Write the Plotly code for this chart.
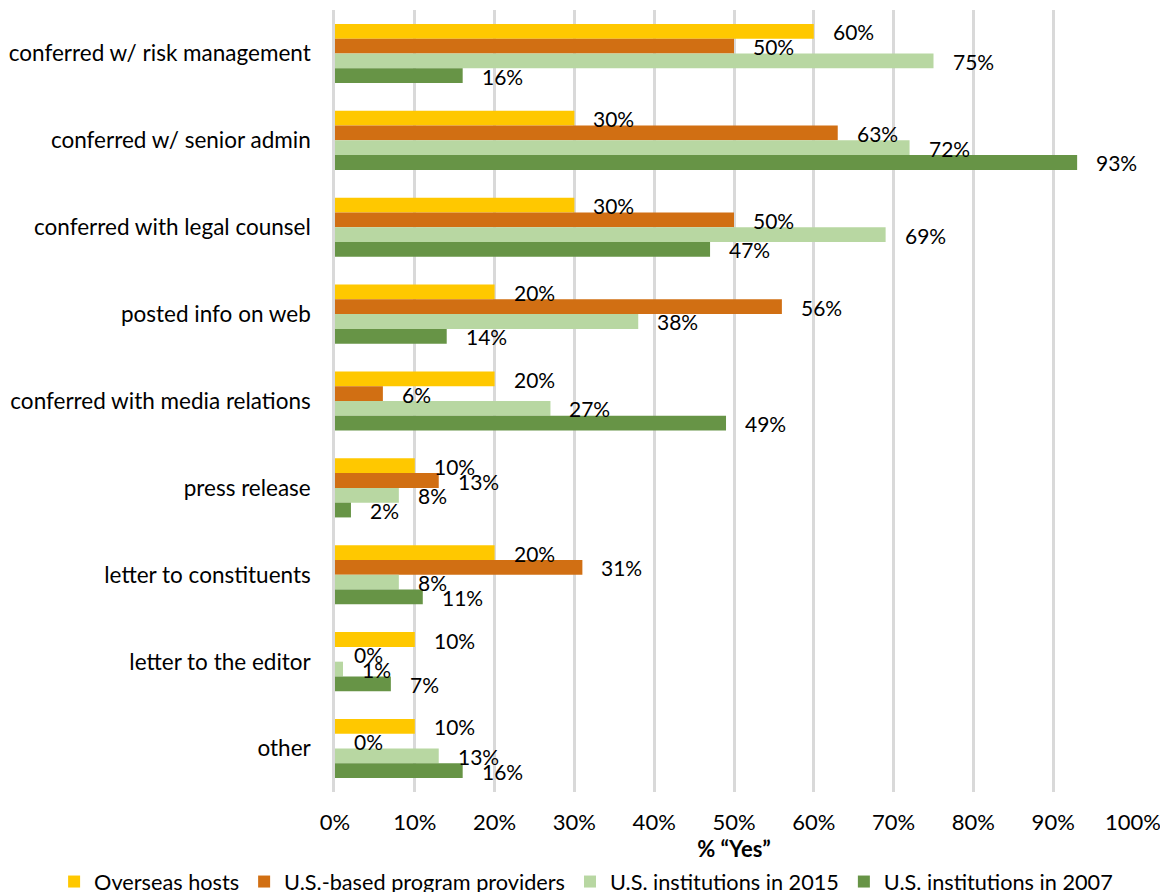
import plotly.graph_objects as go

# Survey responses, % answering "Yes"
categories = [
    "conferred w/ risk management",
    "conferred w/ senior admin",
    "conferred with legal counsel",
    "posted info on web",
    "conferred with media relations",
    "press release",
    "letter to constituents",
    "letter to the editor",
    "other",
]
series_names = [
    "Overseas hosts",
    "U.S.-based program providers",
    "U.S. institutions in 2015",
    "U.S. institutions in 2007",
]
overseas_hosts = [60, 30, 30, 20, 20, 10, 20, 10, 10]
us_providers = [50, 63, 50, 56, 6, 13, 31, 0, 0]
us_inst_2015 = [75, 72, 69, 38, 27, 8, 8, 1, 13]
us_inst_2007 = [16, 93, 47, 14, 49, 2, 11, 7, 16]
x_ticks = [0, 10, 20, 30, 40, 50, 60, 70, 80, 90, 100]

series_values = [overseas_hosts, us_providers, us_inst_2015, us_inst_2007]
colors = ["#FFC800", "#D16F13", "#B8D7A2", "#679446"]

FONT = "Lato"
W, H = 1160, 892
margin = dict(l=335, r=27, t=10, b=100, autoexpand=False)
bargap = 0.32

# pixel height of a single bar, used to place the value labels
plot_h = H - margin["t"] - margin["b"]
bar_px = plot_h / len(categories) * (1 - bargap) / len(series_names)

fig = go.Figure()
for name, vals, col in zip(series_names, series_values, colors):
    fig.add_trace(go.Bar(
        y=categories,
        x=vals,
        name=name,
        orientation="h",
        marker=dict(color=col, line=dict(width=0)),
        hovertemplate="%{y}: %{x}%<extra>" + name + "</extra>",
    ))

# value labels, sitting just right of each bar end
for i, vals in enumerate(series_values):
    for cat, v in zip(categories, vals):
        fig.add_annotation(
            x=v, y=cat,
            text=f"{v}%",
            showarrow=False,
            xanchor="left",
            yanchor="middle",
            xshift=17,
            yshift=(1.5 - i) * bar_px - 0.5,
            font=dict(family=FONT, size=21, color="#000000"),
        )

fig.update_layout(
    width=W,
    height=H,
    barmode="group",
    bargap=bargap,
    bargroupgap=0,
    margin=margin,
    plot_bgcolor="white",
    paper_bgcolor="white",
    font=dict(family=FONT, size=22, color="#000000"),
    xaxis=dict(
        range=[0, 100],
        tickvals=x_ticks,
        ticktext=[f"{t}%" for t in x_ticks],
        showgrid=True,
        gridcolor="#D9D9D9",
        gridwidth=2.5,
        zeroline=False,
        automargin=False,
        ticklabeloverflow="allow",
        ticks="outside",
        ticklen=11,
        tickcolor="rgba(0,0,0,0)",
        tickfont=dict(size=22),
        title=dict(text="<b>% “Yes”</b>", standoff=7, font=dict(size=22)),
    ),
    yaxis=dict(
        autorange="reversed",
        showline=True,
        linecolor="#D9D9D9",
        linewidth=2.5,
        automargin=False,
        ticks="outside",
        ticklen=17,
        tickcolor="rgba(0,0,0,0)",
        tickfont=dict(size=22.5),
        showgrid=False,
    ),
    legend=dict(
        orientation="h",
        x=-0.352,
        xanchor="left",
        y=-0.115,
        yanchor="middle",
        font=dict(size=21.7),
        itemwidth=30,
        tracegroupgap=0,
    ),
)

fig.write_html(
    "out.html",
    config={"displayModeBar": False},
    post_script="document.body.style.margin='0';",
)
